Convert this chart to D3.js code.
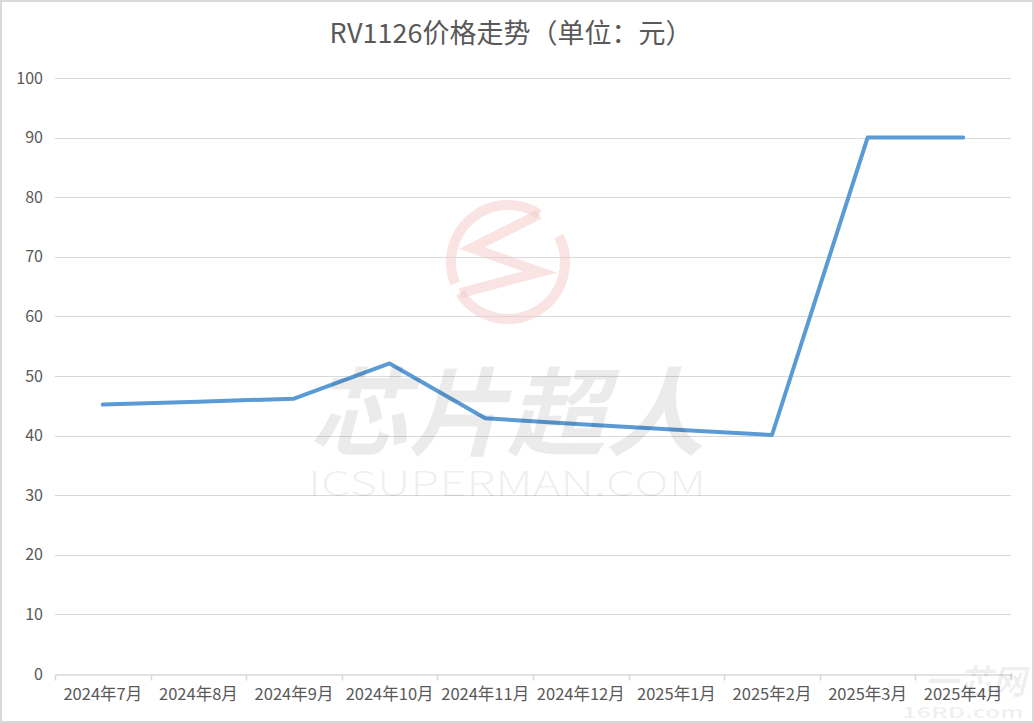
<!DOCTYPE html>
<html><head><meta charset="utf-8">
<script src="https://cdn.jsdelivr.net/npm/d3@7"></script>
<style>
html,body{margin:0;padding:0;background:#fff;}
svg{display:block;}
text{font-family:"Noto Sans CJK SC","Noto Sans",sans-serif;}
</style></head>
<body>
<svg id="chart" width="1034" height="723"></svg>
<script>
const title = "RV1126价格走势（单位：元）";
const categories = ["2024年7月","2024年8月","2024年9月","2024年10月","2024年11月","2024年12月","2025年1月","2025年2月","2025年3月","2025年4月"];
const prices = [45.2, 45.7, 46.2, 52.1, 42.9, 41.9, 41.0, 40.1, 90, 90];
const yTicks = [0,10,20,30,40,50,60,70,80,90,100];

const W = 1034, H = 723;
const m = {left:55, right:1011, top:78, bottom:674};
const svg = d3.select("#chart");

// outer border
svg.append("rect").attr("x",1).attr("y",1).attr("width",W-2).attr("height",H-2)
  .attr("fill","#fff").attr("stroke","#d9d9d9").attr("stroke-width",2);

const x = d3.scaleBand().domain(categories).range([m.left, m.right]).padding(0);
const y = d3.scaleLinear().domain([0,100]).range([m.bottom, m.top]);

// gridlines
svg.append("g").selectAll("line").data(yTicks.filter(d=>d>0)).join("line")
  .attr("x1",m.left).attr("x2",m.right)
  .attr("y1",d=>Math.round(y(d))+0.5).attr("y2",d=>Math.round(y(d))+0.5)
  .attr("stroke","#d9d9d9").attr("stroke-width",1);

// y axis labels
const yAxis = d3.axisLeft(y).tickValues(yTicks).tickSize(0).tickPadding(12);
const gy = svg.append("g").attr("transform",`translate(${m.left},0)`).call(yAxis);
gy.select(".domain").remove();
gy.selectAll("text").attr("fill","#595959").style("font-size","16px");

// x axis
const xAxis = d3.axisBottom(x).tickSize(0).tickPadding(14);
const gx = svg.append("g").attr("transform",`translate(0,${Math.round(m.bottom)+0.5})`).call(xAxis);
gx.select(".domain").attr("stroke","#d9d9d9").attr("stroke-width",1.5);
gx.selectAll("text").attr("fill","#595959").style("font-size","16.5px");
// boundary tick marks
const bounds = categories.map(c=>x(c)).concat([m.right]);
gx.append("g").selectAll("line").data(bounds).join("line")
  .attr("x1",d=>Math.round(d)+0.5).attr("x2",d=>Math.round(d)+0.5)
  .attr("y1",0).attr("y2",6).attr("stroke","#d9d9d9").attr("stroke-width",1.5);

// watermark logo (faint): two arcs joined by a zigzag
const wm = svg.append("g").attr("pointer-events","none")
  .attr("fill","none").attr("stroke","#f4c7c7").attr("stroke-opacity",0.5)
  .attr("stroke-width",10).attr("stroke-linejoin","miter");
const cx = 508, cy = 262, r = 57;
const pt = a => [cx + r*Math.cos(a*Math.PI/180), cy + r*Math.sin(a*Math.PI/180)];
function arcPath(a0, a1){ // clockwise in screen coords
  const p0 = pt(a0), p1 = pt(a1);
  const large = ((a1 - a0 + 360) % 360) > 180 ? 1 : 0;
  return `M${p0[0]},${p0[1]} A${r},${r} 0 ${large} 1 ${p1[0]},${p1[1]}`;
}
wm.append("path").attr("d", arcPath(158, 303));
wm.append("path").attr("d", arcPath(333, 147));
const pA = pt(303), pB = pt(147);
wm.append("path").attr("d", `M${pA[0]},${pA[1]} L472,248 L540,272 L${pB[0]},${pB[1]}`);

// line
const line = d3.line().x((d,i)=>x(categories[i])+x.bandwidth()/2).y(d=>y(d));
svg.append("path").datum(prices).attr("d",line)
  .attr("fill","none").attr("stroke","#5b9bd5").attr("stroke-width",4)
  .attr("stroke-linejoin","round").attr("stroke-linecap","round");

// watermark text over the line
svg.append("text").attr("x",507).attr("y",448).attr("text-anchor","middle")
  .attr("fill","#000").attr("fill-opacity",0.08)
  .style("font-size","96px").style("font-weight","bold").style("font-style","italic")
  .attr("textLength",395).attr("lengthAdjust","spacingAndGlyphs")
  .text("芯片超人");
svg.append("text").attr("x",507).attr("y",496).attr("text-anchor","middle")
  .attr("fill","#000").attr("fill-opacity",0.07)
  .style("font-size","34px").style("font-weight","300")
  .attr("textLength",398).attr("lengthAdjust","spacingAndGlyphs")
  .text("ICSUPERMAN.COM");
svg.append("text").attr("x",975).attr("y",694).attr("text-anchor","middle")
  .attr("fill","#000").attr("fill-opacity",0.06)
  .style("font-size","34px").style("font-weight","bold").style("font-style","italic")
  .text("一芯网");
svg.append("text").attr("x",963).attr("y",718).attr("text-anchor","middle")
  .attr("fill","#000").attr("fill-opacity",0.06)
  .style("font-size","15px").style("font-weight","bold")
  .attr("textLength",122).attr("lengthAdjust","spacingAndGlyphs")
  .text("16RD.com");

// title
svg.append("text").attr("x",511).attr("y",43).attr("text-anchor","middle")
  .attr("fill","#595959").style("font-size","27px").text(title);
</script>
</body></html>
